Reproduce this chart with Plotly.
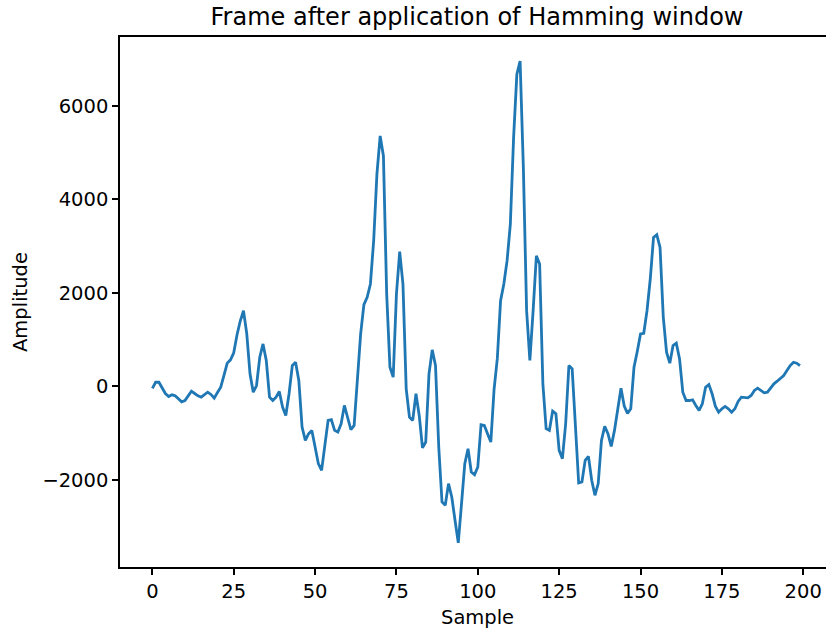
import plotly.graph_objects as go

# Windowed frame samples (200 points)
amplitude = [
    -40, 90, 90, -20, -150, -213, -177, -200, -270, -327,
    -300, -190, -100, -150, -200, -228, -170, -121, -170, -250,
    -130, -15, 235, 500, 570, 720, 1100, 1400, 1620, 1130,
    270, -121, 21, 625, 910, 555, -228, -300, -228, -107,
    -441, -619, -156, 448, 519, 128, -868, -1153, -1010, -939,
    -1295, -1650, -1793, -1295, -726, -711, -939, -975, -797, -405,
    -655, -925, -832, 270, 1125, 1750, 1906, 2192, 3116, 4540,
    5357, 4930, 1978, 412, 199, 1978, 2882, 2192, -50, -655,
    -726, -156, -620, -1310, -1188, 270, 783, 448, -1295, -2470,
    -2540, -2077, -2363, -2860, -3345, -2504, -1650, -1330, -1829, -1885,
    -1722, -818, -832, -1010, -1188, -60, 600, 1836, 2192, 2690,
    3473, 5321, 6675, 6958, 4681, 1622, 555, 1622, 2796, 2619,
    57, -903, -939, -527, -583, -1366, -1543, -797, 448, 377,
    -868, -2063, -2042, -1580, -1494, -2006, -2327, -2077, -1153, -854,
    -1010, -1281, -939, -441, -36, -420, -576, -476, 412, 750,
    1125, 1138, 1622, 2298, 3187, 3244, 2973, 1480, 732, 498,
    875, 925, 590, -121, -300, -300, -285, -405, -512, -370,
    -15, 40, -156, -420, -548, -476, -427, -476, -548, -476,
    -320, -228, -228, -242, -192, -85, -36, -85, -135, -121,
    -36, 57, 113, 164, 235, 341, 448, 519, 498, 448,
]
samples = list(range(len(amplitude)))

x_ticks = [0, 25, 50, 75, 100, 125, 150, 175, 200]
y_ticks = [-2000, 0, 2000, 4000, 6000]
y_tick_text = ["\u22122000", "0", "2000", "4000", "6000"]

FONT = "DejaVu Sans"
TICK_SIZE = 19.5
LABEL_SIZE = 19.5

fig = go.Figure()
fig.add_trace(go.Scatter(
    x=samples, y=amplitude, mode="lines",
    line=dict(color="#1f77b4", width=2.8),
    hoverinfo="skip",
))

fig.update_layout(
    width=826, height=630,
    margin=dict(l=120, r=0, t=37, b=63),
    paper_bgcolor="white", plot_bgcolor="white",
    showlegend=False,
    font=dict(family=FONT, color="black", size=TICK_SIZE),
    title=dict(
        text="Frame after application of Hamming window",
        font=dict(family=FONT, size=24, color="black"),
        xref="paper", x=0.5057, xanchor="center",
        yref="container", y=1 - 17 / 630, yanchor="middle",
    ),
    xaxis=dict(
        range=[-9.95, 207.0],
        tickvals=x_ticks, ticktext=[str(v) for v in x_ticks],
        ticks="outside", ticklen=6, tickwidth=1.5, tickcolor="black",
        showline=True, linecolor="black", linewidth=1.5, mirror=True,
        showgrid=False, zeroline=False,
        tickfont=dict(family=FONT, size=TICK_SIZE, color="black"),
    ),
    yaxis=dict(
        range=[-3860, 7473],
        tickvals=y_ticks, ticktext=y_tick_text,
        ticks="outside", ticklen=6, tickwidth=1.5, tickcolor="black",
        showline=True, linecolor="black", linewidth=1.5, mirror=False,
        showgrid=False, zeroline=False,
        tickfont=dict(family=FONT, size=TICK_SIZE, color="black"),
    ),
    annotations=[
        dict(text="Sample", xref="paper", yref="paper",
             x=0.5057, y=-(617 - 567) / 530, xanchor="center", yanchor="middle",
             showarrow=False, font=dict(family=FONT, size=LABEL_SIZE, color="black")),
        dict(text="Amplitude", xref="paper", yref="paper",
             x=-(120 - 20) / 706, y=0.5, xanchor="center", yanchor="middle",
             textangle=-90, showarrow=False,
             font=dict(family=FONT, size=LABEL_SIZE, color="black")),
    ],
)

fig.write_html("out.html")
